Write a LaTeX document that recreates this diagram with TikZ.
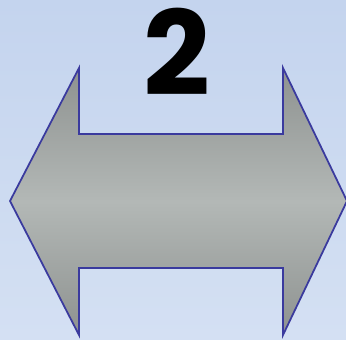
\documentclass[tikz,border=0pt]{standalone}
\usepackage{fontspec}
\newfontfamily\digitfont{Poppins}[UprightFont=* Bold]
\usetikzlibrary{positioning}

\definecolor{bgtop}{HTML}{C4D4EE}
\definecolor{bgbot}{HTML}{D4E0F3}
\definecolor{arrowdark}{HTML}{8E9290}
\definecolor{arrowlight}{HTML}{B3B8B6}
\definecolor{arrowline}{HTML}{3A3A9E}

\pgfdeclareverticalshading{arrowshade}{100bp}{%
  color(0bp)=(arrowdark); color(25bp)=(arrowdark);
  color(50bp)=(arrowlight);
  color(75bp)=(arrowdark); color(100bp)=(arrowdark)}

\begin{document}
\begin{tikzpicture}[
  x=0.03cm, y=-0.03cm,
  line join=miter,
  twoway/.style={
    shade, shading=arrowshade,
    draw=arrowline, line width=1.5pt
  },
  bignum/.style={
    font=\digitfont\fontsize{100}{100}\selectfont,
    text=black, inner sep=0pt
  }
]

% Hintergrund
\shade[top color=bgtop, bottom color=bgbot] (0,0) rectangle (346,339);
\useasboundingbox (0,0) rectangle (346,339);

% Doppelpfeil
\path[twoway] (10,201) -- (79,68) -- (79,134) -- (283,134) -- (283,68)
  -- (347,201) -- (283,335) -- (283,268) -- (79,268) -- (79,335) -- cycle;

% Zahl
\node[bignum, anchor=base] (num) at (177,95) {2};

\end{tikzpicture}
\end{document}
